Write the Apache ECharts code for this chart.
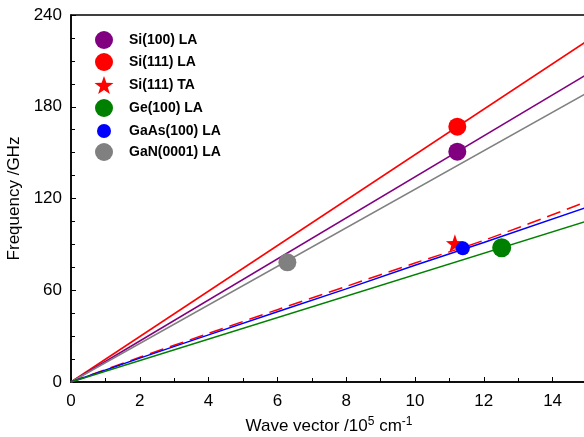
<!DOCTYPE html>
<html><head><meta charset="utf-8">
<script src="https://cdn.jsdelivr.net/npm/echarts@6/dist/echarts.min.js"></script>
<style>html,body{margin:0;padding:0;background:#fff}#c{width:584px;height:437px}</style>
</head><body><div id="c"></div>
<script>
// ---- data ----
const xTicks = [0, 2, 4, 6, 8, 10, 12, 14];
const yTicks = [0, 60, 120, 180, 240];
const lineSi100LA = [[0, 0], [15, 201.2]];
const lineSi111LA = [[0, 0], [15, 223]];
const lineGaN = [[0, 0], [15, 189]];
const lineGe = [[0, 0], [15, 105.2]];
const lineSi111TA = [[0, 0], [2, 16.2], [4, 31.8], [6, 47.3], [8, 62.5], [10, 77.8], [12, 92.6], [15, 118]];
const lineGaAs = [[0, 0], [2, 15.6], [4, 30.8], [6, 45.9], [8, 60.9], [10, 76.3], [12, 91.2], [15, 114.3]];
const legendNames = ['Si(100) LA', 'Si(111) LA', 'Si(111) TA', 'Ge(100) LA', 'GaAs(100) LA', 'GaN(0001) LA'];
const pointSi100LA = [[11.23, 150.6]];
const pointSi111LA = [[11.23, 167]];
const pointSi111TA = [[11.16, 90.7]];
const pointGe = [[12.52, 87.8]];
const pointGaAs = [[11.39, 87.4]];
const pointGaN = [[6.29, 78.3]];

// star symbol path
function starPath() {
  const pts = [];
  for (let k = 0; k < 10; k++) {
    const r = k % 2 === 0 ? 50 : 20;
    const a = (-90 + k * 36) * Math.PI / 180;
    pts.push((50 + r * Math.cos(a)).toFixed(2) + ',' + (50 + r * Math.sin(a)).toFixed(2));
  }
  return 'path://M' + pts.join('L') + 'Z';
}
const STAR = starPath();

const colors = {p: '#800080', r: '#ff0000', g: '#008000', b: '#0000ff', gr: '#808080'};
const FONT = 'Liberation Sans, Arial, sans-serif';

function lineS(data, color, dashed) {
  return {type: 'line', data: data, showSymbol: false, symbol: 'none', smooth: dashed ? 0.3 : false,
    lineStyle: {color: color, width: 1.5, type: dashed ? [14, 7] : 'solid'}, z: 2, silent: true};
}
function ptS(name, data, color, symbol, size) {
  return {type: 'scatter', name: name, data: data, symbol: symbol, symbolSize: size,
    itemStyle: {color: color, opacity: 1}, z: 5};
}

const legendSpec = [
  [legendNames[0], 'circle', colors.p, 18, 31],
  [legendNames[1], 'circle', colors.r, 18, 53],
  [legendNames[2], STAR, colors.r, 19, 76],
  [legendNames[3], 'circle', colors.g, 18, 99],
  [legendNames[4], 'circle', colors.b, 14, 124],
  [legendNames[5], 'circle', colors.gr, 18, 143]
];
const legends = legendSpec.map(function (s) {
  return {data: [{name: s[0], icon: s[1], itemStyle: {color: s[2]}}], left: 95 + (18 - s[3]) / 2, top: s[4],
    itemWidth: s[3], itemHeight: s[3], itemGap: 0, orient: 'vertical', selectedMode: false,
    textStyle: {fontFamily: FONT, fontWeight: 'bold', fontSize: 14, color: '#000', padding: [0, 0, 0, 11 + (18 - s[3]) / 2]}, padding: 0};
});

const chart = echarts.init(document.getElementById('c'), null, {renderer: 'canvas'});
chart.setOption({
  animation: false,
  backgroundColor: '#fff',
  grid: {left: 71, right: -3, top: 15, bottom: 55, containLabel: false, outerBoundsMode: 'none',
    show: true, borderColor: '#000', borderWidth: 1.5},
  legend: legends,
  xAxis: {
    type: 'value', min: xTicks[0], max: 15, interval: 2,
    axisLine: {show: true, lineStyle: {color: '#000', width: 1.5}},
    axisTick: {show: true, inside: true, length: 5, lineStyle: {color: '#000', width: 1}},
    minorTick: {show: true, splitNumber: 2, length: 4, lineStyle: {color: '#000', width: 1}},
    splitLine: {show: false},
    axisLabel: {fontFamily: FONT, fontSize: 17, color: '#000', margin: 11,
      formatter: function (v) { return xTicks.indexOf(v) >= 0 ? String(v) : ''; }},
    name: '{a|Wave vector /10}{s|5}{a| cm}{s|-1}', nameLocation: 'middle', nameGap: 34,
    nameTextStyle: {rich: {
      a: {fontFamily: FONT, fontSize: 17, color: '#000'},
      s: {fontFamily: FONT, fontSize: 12, color: '#000', verticalAlign: 'top', padding: [0, 0, 8, 0]}
    }}
  },
  yAxis: {
    type: 'value', min: yTicks[0], max: yTicks[yTicks.length - 1], interval: 60,
    axisLine: {show: true, lineStyle: {color: '#000', width: 1.5}},
    axisTick: {show: true, inside: true, length: 5, lineStyle: {color: '#000', width: 1}},
    minorTick: {show: true, splitNumber: 4, length: 4, lineStyle: {color: '#000', width: 1}},
    splitLine: {show: false},
    axisLabel: {fontFamily: FONT, fontSize: 17, color: '#000', margin: 9},
    name: 'Frequency /GHz', nameLocation: 'middle', nameGap: 43,
    nameTextStyle: {fontFamily: FONT, fontSize: 17, color: '#000'}
  },
  series: [
    lineS(lineSi111LA, colors.r, false),
    lineS(lineSi100LA, colors.p, false),
    lineS(lineGaN, colors.gr, false),
    lineS(lineSi111TA, colors.r, true),
    lineS(lineGaAs, colors.b, false),
    lineS(lineGe, colors.g, false),
    ptS(legendNames[0], pointSi100LA, colors.p, 'circle', 18),
    ptS(legendNames[1], pointSi111LA, colors.r, 'circle', 18),
    ptS(legendNames[2], pointSi111TA, colors.r, STAR, 18),
    ptS(legendNames[3], pointGe, colors.g, 'circle', 19),
    ptS(legendNames[4], pointGaAs, colors.b, 'circle', 14),
    ptS(legendNames[5], pointGaN, colors.gr, 'circle', 18)
  ]
});
</script></body></html>
